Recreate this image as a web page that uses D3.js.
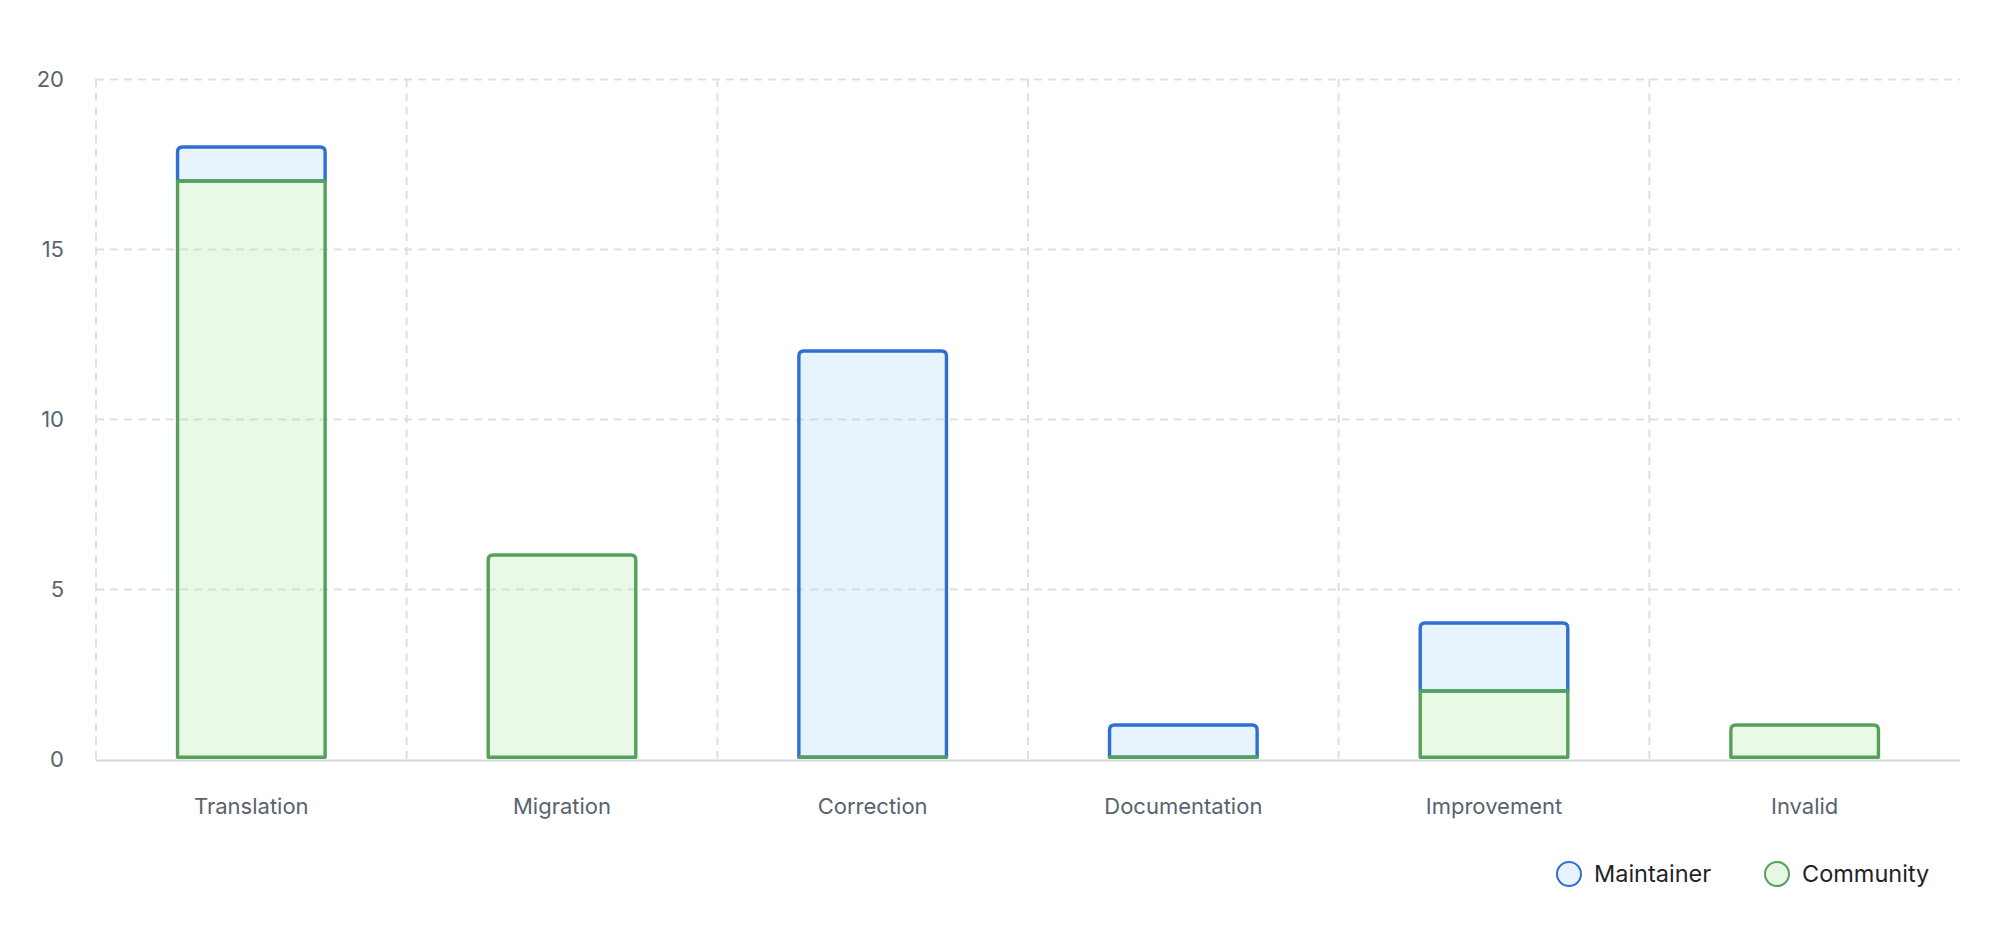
<!DOCTYPE html>
<html>
<head>
<meta charset="utf-8">
<script src="https://cdn.jsdelivr.net/npm/d3@7"></script>
<style>
  body { margin: 0; background: #fff; }
  text { font-family: Inter, "Noto Sans", sans-serif; }
</style>
</head>
<body>
<div id="chart"></div>
<script>
// chart data
var categories = ["Translation", "Migration", "Correction", "Documentation", "Improvement", "Invalid"];
var maintainer = [1, 0, 12, 1, 2, 0];
var community = [17, 6, 0, 0, 2, 1];
var yTicks = [0, 5, 10, 15, 20];

var seriesInfo = [
  {key: "maintainer", label: "Maintainer", stroke: "#2f6fd3", fill: "rgba(160,210,250,0.25)", legendFill: "#e7f3fe"},
  {key: "community", label: "Community", stroke: "#55a05a", fill: "rgba(172,238,160,0.28)", legendFill: "#e6f8e3"}
];

var width = 2000, height = 950;
var margin = {top: 79, right: 40, bottom: 191, left: 96};
var widthG = width - margin.left - margin.right;
var heightG = height - margin.top - margin.bottom;

var svg = d3.select("#chart").append("svg")
  .attr("width", width)
  .attr("height", height)
  .style("display", "block");

var g = svg.append("g")
  .attr("transform", "translate(" + margin.left + "," + margin.top + ")");

var rows = categories.map(function(c, i) {
  return {cat: c, maintainer: maintainer[i], community: community[i]};
});

// community at the bottom, maintainer stacked on top
var stacked = d3.stack().keys(["community", "maintainer"])(rows);

var x = d3.scaleBand()
  .domain(categories)
  .range([0, widthG])
  .padding(0);

var y = d3.scaleLinear()
  .domain([0, 20])
  .range([heightG, 0]);

var barW = x.bandwidth() * 0.486;
var sw = 3.4;

// gridlines
g.append("g")
  .attr("class", "grid")
  .call(d3.axisLeft(y).tickValues(yTicks.slice(1)).tickSize(-widthG).tickFormat(""))
  .call(function(s) { s.select(".domain").remove(); });

g.append("g")
  .attr("class", "grid")
  .selectAll("line")
  .data(categories)
  .enter().append("line")
  .attr("x1", function(d) { return x(d); })
  .attr("x2", function(d) { return x(d); })
  .attr("y1", y(20))
  .attr("y2", heightG);

g.selectAll(".grid line")
  .style("stroke", "#dde0e3")
  .style("stroke-width", 2)
  .style("stroke-dasharray", "8,6");

// axis baseline
g.append("line")
  .attr("x1", 0)
  .attr("x2", widthG)
  .attr("y1", heightG + 1.5)
  .attr("y2", heightG + 1.5)
  .style("stroke", "#d1d9e0")
  .style("stroke-width", 2);

// y labels
g.append("g")
  .selectAll("text")
  .data(yTicks)
  .enter().append("text")
  .attr("x", -32)
  .attr("y", function(d) { return y(d); })
  .attr("dy", "0.35em")
  .attr("text-anchor", "end")
  .style("font-size", "22px")
  .style("fill", "#59636e")
  .text(function(d) { return d; });

// x labels
g.append("g")
  .selectAll("text")
  .data(categories)
  .enter().append("text")
  .attr("x", function(d) { return x(d) + x.bandwidth() / 2; })
  .attr("y", heightG + 47)
  .attr("dy", "0.35em")
  .attr("text-anchor", "middle")
  .style("font-size", "22px")
  .style("fill", "#59636e")
  .text(function(d) { return d; });

// bar segment path; sides and bottom inset, top edge centred on the value
function segPath(x0, yb, yt, w, isTop, isBottom) {
  var h = sw / 2;
  var l = x0 + h, r = x0 + w - h;
  var b = yb - (isBottom ? h : 0);
  var t = Math.min(yt, b);
  var rad = isTop ? Math.min(5, (b - t)) : 0;
  return "M" + l + "," + b +
    "L" + l + "," + (t + rad) +
    (rad ? "Q" + l + "," + t + " " + (l + rad) + "," + t : "") +
    "L" + (r - rad) + "," + t +
    (rad ? "Q" + r + "," + t + " " + r + "," + (t + rad) : "") +
    "L" + r + "," + b + "Z";
}

// draw maintainer first so community edges sit on top
var drawOrder = ["maintainer", "community"];
drawOrder.forEach(function(key) {
  var layer = stacked.filter(function(s) { return s.key == key; })[0];
  var info = seriesInfo.filter(function(s) { return s.key == key; })[0];
  var segs = layer.filter(function(d) {
    // an empty top segment leaves no mark
    return !(key == "maintainer" && d[1] == d[0]);
  });
  g.append("g")
    .attr("class", "serie " + key)
    .selectAll("path")
    .data(segs)
    .enter().append("path")
    .attr("d", function(d) {
      var isTop = (key == "maintainer") ? true : d.data.maintainer == 0;
      var isBottom = d[0] == 0;
      var x0 = x(d.data.cat) + (x.bandwidth() - barW) / 2;
      return segPath(x0, y(d[0]), y(d[1]), barW, isTop, isBottom);
    })
    .style("fill", info.fill)
    .style("stroke", info.stroke)
    .style("stroke-width", sw)
    .style("stroke-linejoin", "round");
});

// legend
var legend = svg.append("g")
  .attr("class", "legend")
  .attr("transform", "translate(0,874)");

var legendX = [1569, 1777];
var items = legend.selectAll(".legends")
  .data(seriesInfo)
  .enter().append("g")
  .attr("class", "legends")
  .attr("transform", function(d, i) { return "translate(" + legendX[i] + ",0)"; });

items.append("circle")
  .attr("r", 12)
  .style("fill", function(d) { return d.legendFill; })
  .style("stroke", function(d) { return d.stroke; })
  .style("stroke-width", 2);

items.append("text")
  .attr("x", 25)
  .attr("dy", "0.35em")
  .style("font-size", "23.5px")
  .style("fill", "#1f2328")
  .text(function(d) { return d.label; });
</script>
</body>
</html>
